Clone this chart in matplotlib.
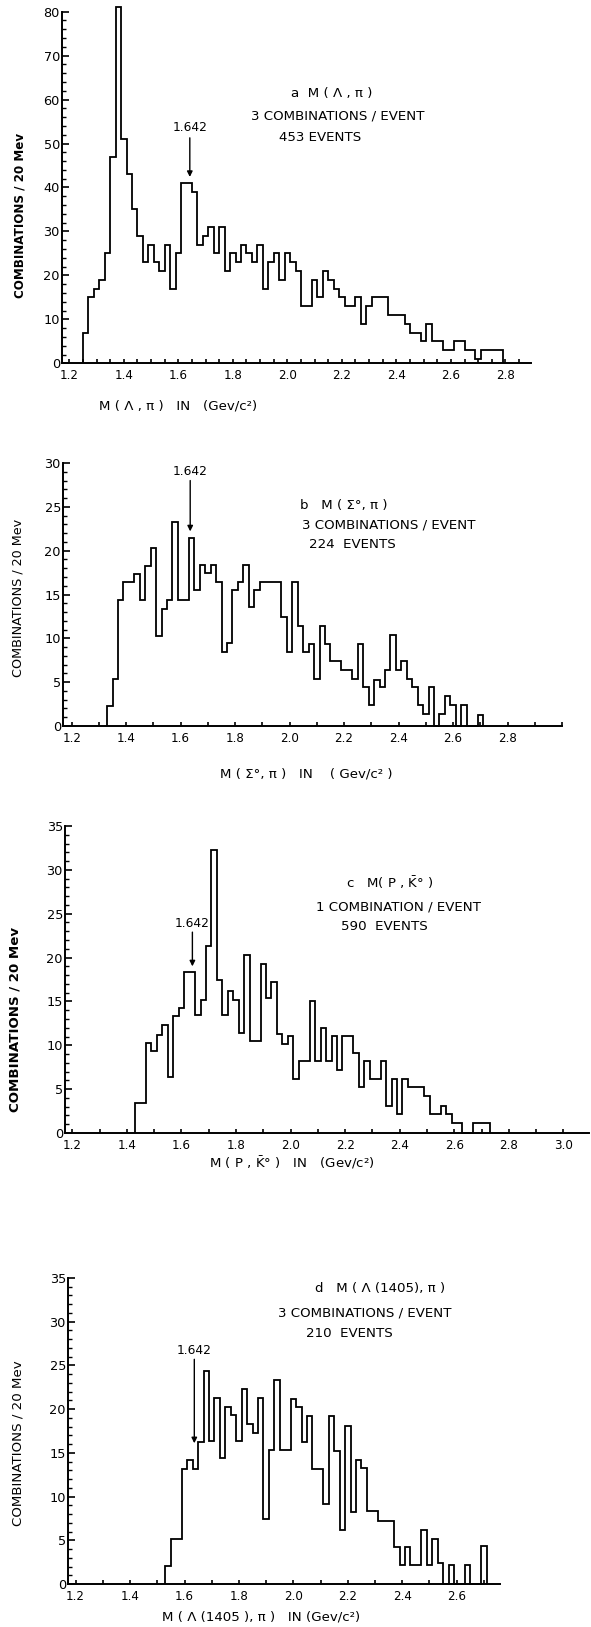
import numpy as np
import matplotlib
matplotlib.use('Agg')
import matplotlib.pyplot as plt
from matplotlib.ticker import MultipleLocator

# bin width is 20 Mev
bin_width = 0.02

# panel a : M(Lambda, pi)
a_start = 1.25
a_counts = [7, 15, 17, 19, 25, 47, 81, 51, 43, 35,
            29, 23, 27, 23, 21, 27, 17, 25, 41, 41,
            39, 27, 29, 31, 25, 31, 21, 25, 23, 27,
            25, 23, 27, 17, 23, 25, 19, 25, 23, 21,
            13, 13, 19, 15, 21, 19, 17, 15, 13, 13,
            15, 9, 13, 15, 15, 15, 11, 11, 11, 9,
            7, 7, 5, 9, 5, 5, 3, 3, 5, 5,
            3, 3, 1, 3, 3, 3, 3]

# panel b : M(Sigma0, pi)
b_start = 1.33
b_counts = [2.3, 5.4, 14.4, 16.4, 16.4, 17.3, 14.4, 18.3, 20.3, 10.3,
            13.3, 14.4, 23.3, 14.4, 14.4, 21.4, 15.5, 18.4, 17.4, 18.4,
            16.4, 8.4, 9.5, 15.5, 16.4, 18.4, 13.6, 15.5, 16.4, 16.4,
            16.4, 16.4, 12.4, 8.4, 16.4, 11.4, 8.4, 9.4, 5.4, 11.4,
            9.4, 7.4, 7.4, 6.4, 6.4, 5.4, 9.4, 4.4, 2.4, 5.2,
            4.4, 6.4, 10.4, 6.4, 7.4, 5.4, 4.4, 2.4, 1.4, 4.4,
            0, 1.4, 3.4, 2.4, 0, 2.4, 0, 0, 1.3]

# panel c : M(P, K0bar)
c_start = 1.43
c_counts = [3.4, 3.4, 10.3, 9.4, 11.2, 12.3, 6.4, 13.3, 14.3, 18.3,
            18.3, 13.4, 15.2, 21.3, 32.3, 17.4, 13.5, 16.2, 15.2, 11.4,
            20.3, 10.5, 10.5, 19.3, 15.4, 17.2, 11.3, 10.2, 11.1, 6.2,
            8.2, 8.2, 15.1, 8.2, 12.0, 8.2, 11.1, 7.2, 11.1, 11.1,
            9.1, 5.2, 8.2, 6.2, 6.2, 8.2, 3.1, 6.2, 2.2, 6.2,
            5.2, 5.2, 5.2, 4.2, 2.2, 2.2, 3.1, 2.2, 1.1, 1.1,
            0, 0, 1.1, 1.1, 1.1]

# panel d : M(Lambda(1405), pi)
d_start = 1.53
d_counts = [2.1, 5.2, 5.2, 13.2, 14.2, 13.2, 16.2, 24.4, 16.3, 21.3,
            14.4, 20.3, 19.3, 16.3, 22.3, 18.3, 17.3, 21.3, 7.4, 15.3,
            23.3, 15.3, 15.3, 21.2, 20.3, 16.2, 19.2, 13.2, 13.2, 9.2,
            19.2, 15.2, 6.2, 18.1, 8.2, 14.2, 13.3, 8.3, 8.3, 7.2,
            7.2, 7.2, 4.2, 2.2, 4.2, 2.2, 2.2, 6.2, 2.2, 5.2,
            2.4, 0, 2.2, 0, 0, 2.2, 0, 0, 4.3]

# tick labels
a_xticks = [1.2, 1.4, 1.6, 1.8, 2.0, 2.2, 2.4, 2.6, 2.8]
b_xticks = [1.2, 1.4, 1.6, 1.8, 2.0, 2.2, 2.4, 2.6, 2.8]
c_xticks = [1.2, 1.4, 1.6, 1.8, 2.0, 2.2, 2.4, 2.6, 2.8, 3.0]
d_xticks = [1.2, 1.4, 1.6, 1.8, 2.0, 2.2, 2.4, 2.6]
a_yticks = [0, 10, 20, 30, 40, 50, 60, 70, 80]
b_yticks = [0, 5, 10, 15, 20, 25, 30]
c_yticks = [0, 5, 10, 15, 20, 25, 30, 35]
d_yticks = [0, 5, 10, 15, 20, 25, 30, 35]

resonance = "1.642"

a_text = ["a  M ( Λ , π )", "3 COMBINATIONS / EVENT", "453 EVENTS"]
b_text = ["b   M ( Σ°, π )", "3 COMBINATIONS / EVENT", "224  EVENTS"]
c_text = [r"c   M( P , $\mathrm{\bar{K}}$° )", "1 COMBINATION / EVENT", "590  EVENTS"]
d_text = ["d   M ( Λ (1405), π )", "3 COMBINATIONS / EVENT", "210  EVENTS"]

a_xlabel = "M ( Λ , π )   IN   (Gev/c²)"
b_xlabel = "M ( Σ°, π )   IN    ( Gev/c² )"
c_xlabel = r"M ( P , $\mathrm{\bar{K}}$° )   IN   (Gev/c²)"
d_xlabel = "M ( Λ (1405 ), π )   IN (Gev/c²)"
ylabel = "COMBINATIONS / 20 Mev"

W, H = 591, 1627
fig = plt.figure(figsize=(W / 100, H / 100), dpi=100)
fig.patch.set_facecolor('white')

# layout of each panel in pixels (left, top, right, bottom), limits, text spots
panels = [
    dict(counts=a_counts, start=a_start, box=(62, 11.7, 531, 363.3), xlim=(1.173, 2.894), ytop=80,
         xticks=a_xticks, xminor=0.05, yticks=a_yticks, yminor=2,
         text=a_text, tpos=[(2.163, 61.5), (2.185, 56.3), (2.122, 51.3)],
         arrow=(1.642, 52.2, 51.3, 42.4), xlabel=a_xlabel, xlpos=(178, 406),
         ylpos=(20, 215), ylw='bold', ylsize=8.6),
    dict(counts=b_counts, start=b_start, box=(63, 463, 562, 726), xlim=(1.168, 3.0), ytop=30,
         xticks=b_xticks, xminor=0.1, yticks=b_yticks, yminor=1,
         text=b_text, tpos=[(2.2, 25.2), (2.365, 22.9), (2.229, 20.75)],
         arrow=(1.635, 28.3, 28.0, 22.2), xlabel=b_xlabel, xlpos=(306, 774),
         ylpos=(18, 598), ylw='normal', ylsize=9.2),
    dict(counts=c_counts, start=c_start, box=(65, 826, 589, 1133), xlim=(1.173, 3.094), ytop=35,
         xticks=c_xticks, xminor=0.1, yticks=c_yticks, yminor=1,
         text=c_text, tpos=[(2.365, 28.5), (2.394, 25.8), (2.343, 23.5)],
         arrow=(1.64, 23.1, 22.9, 19.0), xlabel=c_xlabel, xlpos=(292, 1163),
         ylpos=(15, 1019), ylw='bold', ylsize=9.6),
    dict(counts=d_counts, start=d_start, box=(68, 1278, 500, 1584), xlim=(1.172, 2.759), ytop=35,
         xticks=d_xticks, xminor=0.1, yticks=d_yticks, yminor=1,
         text=d_text, tpos=[(2.318, 33.75), (2.263, 31.0), (2.207, 28.7)],
         arrow=(1.636, 26.0, 25.7, 16.1), xlabel=d_xlabel, xlpos=(261, 1617),
         ylpos=(18, 1443), ylw='normal', ylsize=9.6),
]

for p in panels:
    l, t, r, b = p['box']
    ax = fig.add_axes([l / W, 1 - b / H, (r - l) / W, (b - t) / H])

    counts = np.array(p['counts'], dtype=float)
    edges = p['start'] + bin_width * np.arange(len(counts) + 1)
    ax.stairs(counts, edges, baseline=0, color='black', linewidth=1.3, clip_on=False)

    ax.set_xlim(*p['xlim'])
    ax.set_ylim(0, p['ytop'])

    for side in ['top', 'right']:
        ax.spines[side].set_visible(False)
    for side in ['left', 'bottom']:
        ax.spines[side].set_linewidth(1.4)

    ax.set_xticks(p['xticks'])
    ax.set_xticklabels([f"{v:.1f}" for v in p['xticks']])
    ax.xaxis.set_minor_locator(MultipleLocator(p['xminor']))
    ax.set_yticks(p['yticks'])
    ax.set_yticklabels([str(v) for v in p['yticks']])
    ax.yaxis.set_minor_locator(MultipleLocator(p['yminor']))

    ax.tick_params(axis='x', which='both', direction='in', length=3.2, width=1.2,
                   labelsize=8.6, pad=4)
    ax.tick_params(axis='y', which='major', direction='in', length=4.8, width=1.2,
                   labelsize=9.3, pad=1.5)
    ax.tick_params(axis='y', which='minor', direction='in', length=2.8, width=1.0)

    # annotations
    for s, (tx, ty) in zip(p['text'], p['tpos']):
        ax.text(tx, ty, s, ha='center', va='center', fontsize=9.6)

    xa, ylab, ytop_arrow, ytip = p['arrow']
    ax.text(xa, ylab, resonance, ha='center', va='bottom', fontsize=8.8)
    ax.annotate('', xy=(xa, ytip), xytext=(xa, ytop_arrow),
                arrowprops=dict(arrowstyle='-|>', color='black', lw=1.0,
                                mutation_scale=8, shrinkA=0, shrinkB=0))

    fig.text(p['xlpos'][0] / W, 1 - p['xlpos'][1] / H, p['xlabel'],
             ha='center', va='center', fontsize=9.6)
    fig.text(p['ylpos'][0] / W, 1 - p['ylpos'][1] / H, ylabel, rotation=90,
             ha='center', va='center', fontsize=p['ylsize'], fontweight=p['ylw'])

fig.savefig('out.png', dpi=100, facecolor='white')
